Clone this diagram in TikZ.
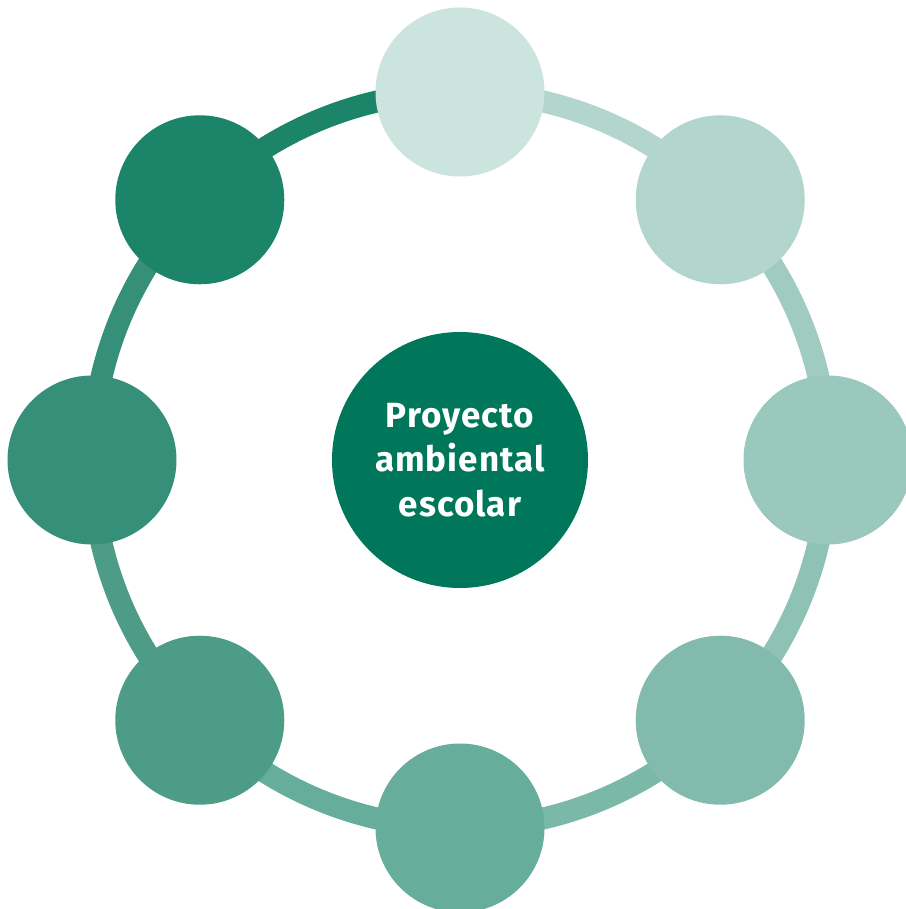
\documentclass[tikz,border=0pt]{standalone}
\usepackage{fontspec}
\setmainfont{Fira Sans}[LetterSpace=3]
\usetikzlibrary{backgrounds}
\definecolor{hub}{HTML}{00765A}
\definecolor{cT}{HTML}{CBE4DE}
\definecolor{cTR}{HTML}{B2D6CE}
\definecolor{cR}{HTML}{9AC8BC}
\definecolor{cBR}{HTML}{82BBAD}
\definecolor{cB}{HTML}{66AE9B}
\definecolor{cBL}{HTML}{4D9C88}
\definecolor{cL}{HTML}{368F79}
\definecolor{cTL}{HTML}{1B8469}
\definecolor{rTR}{HTML}{9FCBC0}
\definecolor{rBR}{HTML}{8EC2B4}
\definecolor{rB}{HTML}{7AB8A8}
\tikzset{
  dot/.style={circle,fill=#1,inner sep=0pt,minimum size=169pt},
  ring/.style={line width=22pt,draw=#1},
  hubbox/.style={circle,fill=hub,inner sep=0pt,minimum size=256pt,align=center,
    text=white,font=\fontsize{35}{44.5}\selectfont\bfseries},
}

\begin{document}
\begin{tikzpicture}[x=1pt,y=1pt]
  \useasboundingbox (-460,-449) rectangle (445,460);
  \node[hubbox] (hub) at (0,0) {Proyecto\\ambiental\\escolar};
  \node[dot=cT] (t) at (90:368pt) {};
  \node[dot=cTR] (tr) at (45:368pt) {};
  \node[dot=cR] (r) at (0:368pt) {};
  \node[dot=cBR] (br) at (-45:368pt) {};
  \node[dot=cB] (b) at (-90:368pt) {};
  \node[dot=cBL] (bl) at (-135:368pt) {};
  \node[dot=cL] (l) at (180:368pt) {};
  \node[dot=cTL] (tl) at (135:368pt) {};
  \begin{scope}[on background layer]
    \draw[ring=cTR] (t.center) arc[start angle=90,end angle=45,radius=368pt];
    \draw[ring=rTR] (tr.center) arc[start angle=45,end angle=0,radius=368pt];
    \draw[ring=rBR] (r.center) arc[start angle=0,end angle=-45,radius=368pt];
    \draw[ring=rB] (br.center) arc[start angle=-45,end angle=-90,radius=368pt];
    \draw[ring=cB] (b.center) arc[start angle=-90,end angle=-135,radius=368pt];
    \draw[ring=cBL] (bl.center) arc[start angle=-135,end angle=-180,radius=368pt];
    \draw[ring=cL] (l.center) arc[start angle=180,end angle=135,radius=368pt];
    \draw[ring=cTL] (tl.center) arc[start angle=135,end angle=90,radius=368pt];
  \end{scope}
\end{tikzpicture}
\end{document}
